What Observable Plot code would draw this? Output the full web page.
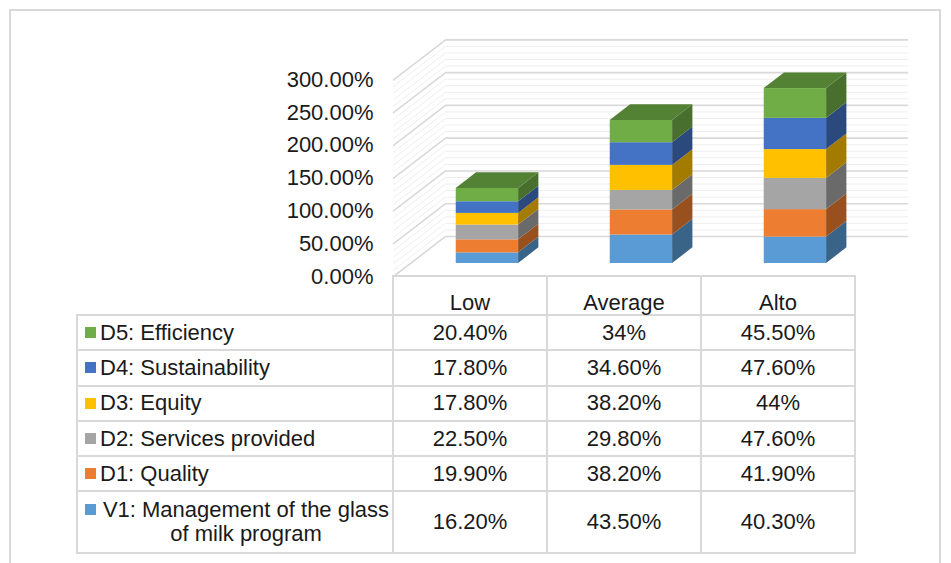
<!DOCTYPE html>
<html>
<head>
<meta charset="utf-8">
<script src="https://cdn.jsdelivr.net/npm/d3@7"></script>
<script src="https://cdn.jsdelivr.net/npm/@observablehq/plot@0.6"></script>
<style>
  html, body { margin: 0; padding: 0; background: #fff; }
  #wrap { position: relative; width: 951px; height: 563px; overflow: hidden;
          font-family: "Liberation Sans", Arial, sans-serif; color: #1a1a1a; background: #fff; }
  #frame { position: absolute; left: 9px; top: 9px; width: 932px; height: 620px;
           border: 2px solid #d9d9d9; box-sizing: border-box; }
  #chart { position: absolute; left: 0; top: 0; }
  #chart svg { overflow: visible; }
  .ln { position: absolute; background: #d9d9d9; }
  .cell { position: absolute; display: flex; align-items: center; justify-content: center;
          font-size: 22px; line-height: 24px; white-space: nowrap; }
  .cell.head { align-items: flex-end; }
  .leg { position: absolute; display: flex; align-items: center; font-size: 22px; line-height: 24px; }
  .leg .inner { display: flex; align-items: flex-start; }
  .leg .sw { width: 11px; height: 11px; margin-top: 6.5px; margin-right: 4px; flex: none; }
  .leg .txt { display: inline-block; max-width: 292px; text-align: center; }
</style>
</head>
<body>
<div id="wrap">
  <div id="frame"></div>
  <div id="chart"></div>
  <div id="table"></div>
</div>
<script>
// ---------- data ----------
const categories = ["Low", "Average", "Alto"];
const seriesNames = [
  "V1: Management of the glass of milk program",
  "D1: Quality",
  "D2: Services provided",
  "D3: Equity",
  "D4: Sustainability",
  "D5: Efficiency"
];
const seriesColors = ["#5B9BD5", "#ED7D31", "#A5A5A5", "#FFC000", "#4472C4", "#70AD47"];
const valuesV1 = [16.2, 43.5, 40.3];
const valuesD1 = [19.9, 38.2, 41.9];
const valuesD2 = [22.5, 29.8, 47.6];
const valuesD3 = [17.8, 38.2, 44];
const valuesD4 = [17.8, 34.6, 47.6];
const valuesD5 = [20.4, 34, 45.5];
const yTicks = [0, 50, 100, 150, 200, 250, 300];

const seriesValues = [valuesV1, valuesD1, valuesD2, valuesD3, valuesD4, valuesD5];

// ---------- 3D geometry (in scale units) ----------
const DEPTH_X = 0.338;   // full floor depth, x-index units
const DEPTH_Y = 61.1;    // full floor depth, % units
const FRONT = 0.325;     // depth fraction of bar front faces
const BAR_DEPTH = 0.39;  // depth fraction of bars
const BAR_W = 0.405;     // bar width, x-index units
const X_MIN = -0.5, X_MAX = 2.5;

const fronts = [], sides = [], tops = [];
categories.forEach((cat, i) => {
  let base = 0;
  const yo = FRONT * DEPTH_Y, bdx = BAR_DEPTH * DEPTH_X, bdy = BAR_DEPTH * DEPTH_Y;
  const xl = i + FRONT * DEPTH_X - BAR_W / 2, xr = xl + BAR_W;
  seriesValues.forEach((vals, s) => {
    const top = base + vals[i];
    const col = seriesColors[s];
    const sideCol = d3.color(col).darker(1.25).formatHex();
    const id = cat + "-" + s;
    fronts.push({x1: xl, x2: xr, y1: base + yo, y2: top + yo, fill: col});
    sides.push({id, x: xr, y1: base + yo, y2: top + yo, fill: sideCol});
    sides.push({id, x: xr + bdx, y1: base + yo + bdy, y2: top + yo + bdy, fill: sideCol});
    if (s === seriesValues.length - 1) {
      const topCol = d3.color(col).darker(0.8).formatHex();
      tops.push({id, y: top + yo, x1: xl, x2: xr, fill: topCol});
      tops.push({id, y: top + yo + bdy, x1: xl + bdx, x2: xr + bdx, fill: topCol});
    }
    base = top;
  });
});

const gridPath = t => [
  {t, x: X_MIN, y: t},
  {t, x: X_MIN + DEPTH_X, y: t + DEPTH_Y},
  {t, x: X_MAX + DEPTH_X, y: t + DEPTH_Y}
];
const minorTicks = d3.range(0, 301, 10).filter(t => t % 50 !== 0);
const minorPts = minorTicks.flatMap(gridPath);
const majorPts = yTicks.flatMap(gridPath);

const chart = Plot.plot({
  width: 951,
  height: 277,
  marginLeft: 393,
  marginRight: 96,
  marginTop: 79.4,
  marginBottom: 1,
  x: {type: "linear", domain: [X_MIN, X_MAX], axis: null},
  y: {type: "linear", domain: [0, 300], axis: null},
  color: {type: "identity"},
  style: {background: "transparent", overflow: "visible", fontFamily: "Liberation Sans, Arial, sans-serif"},
  marks: [
    Plot.line(minorPts, {x: "x", y: "y", z: "t", stroke: "#eeeeee", strokeWidth: 1}),
    Plot.line(majorPts, {x: "x", y: "y", z: "t", stroke: "#d9d9d9", strokeWidth: 1.6}),
    Plot.rect(fronts, {x1: "x1", x2: "x2", y1: "y1", y2: "y2", fill: d => d.fill}),
    Plot.areaY(sides, {x: "x", y1: "y1", y2: "y2", z: "id", fill: d => d.fill}),
    Plot.areaX(tops, {y: "y", x1: "x1", x2: "x2", z: "id", fill: d => d.fill}),
    Plot.text(yTicks, {
      frameAnchor: "left", y: d => d, text: d => d.toFixed(2) + "%",
      textAnchor: "end", dx: -20, fontSize: 22, fill: "#1a1a1a"
    })
  ]
});
document.getElementById("chart").appendChild(chart);

// ---------- data table ----------
const fmt = v => (Number.isInteger(v) ? String(v) : v.toFixed(2)) + "%";
const colX = [77, 393, 547, 701, 855];
const rowY = [276, 315, 350, 385.5, 421, 456, 491, 552.5];
const LW = 2;
const table = document.getElementById("table");
function addDiv(cls, style, html) {
  const d = document.createElement("div");
  d.className = cls;
  Object.assign(d.style, style);
  if (html !== undefined) d.innerHTML = html;
  table.appendChild(d);
  return d;
}
// grid lines
rowY.forEach((y, r) => {
  const x0 = r === 0 ? colX[1] : colX[0];
  addDiv("ln", {left: (x0 - LW / 2) + "px", top: (y - LW / 2) + "px",
                width: (colX[4] - x0 + LW) + "px", height: LW + "px"});
});
colX.forEach((x, c) => {
  const y0 = c === 0 ? rowY[1] : rowY[0];
  addDiv("ln", {left: (x - LW / 2) + "px", top: (y0 - LW / 2) + "px",
                width: LW + "px", height: (rowY[7] - y0 + LW) + "px"});
});
// header
categories.forEach((cat, i) => {
  const d = addDiv("cell head", {left: colX[i + 1] + "px", top: rowY[0] + "px",
                   width: (colX[i + 2] - colX[i + 1]) + "px", height: (rowY[1] - rowY[0]) + "px"});
  d.textContent = cat;
});
// rows (top to bottom: D5 ... V1)
for (let r = 0; r < seriesNames.length; r++) {
  const s = seriesNames.length - 1 - r;
  const top = rowY[r + 1], h = rowY[r + 2] - rowY[r + 1];
  const leg = addDiv("leg", {left: (colX[0] + 8) + "px", top: top + "px",
                     width: (colX[1] - colX[0] - 8) + "px", height: h + "px"});
  const inner = document.createElement("div");
  inner.className = "inner";
  const sw = document.createElement("span");
  sw.className = "sw";
  sw.style.background = seriesColors[s];
  const txt = document.createElement("span");
  txt.className = "txt";
  txt.textContent = seriesNames[s];
  inner.appendChild(sw); inner.appendChild(txt);
  leg.appendChild(inner);
  categories.forEach((cat, i) => {
    const d = addDiv("cell", {left: colX[i + 1] + "px", top: top + "px",
                     width: (colX[i + 2] - colX[i + 1]) + "px", height: h + "px"});
    d.textContent = fmt(seriesValues[s][i]);
  });
}
</script>
</body>
</html>
